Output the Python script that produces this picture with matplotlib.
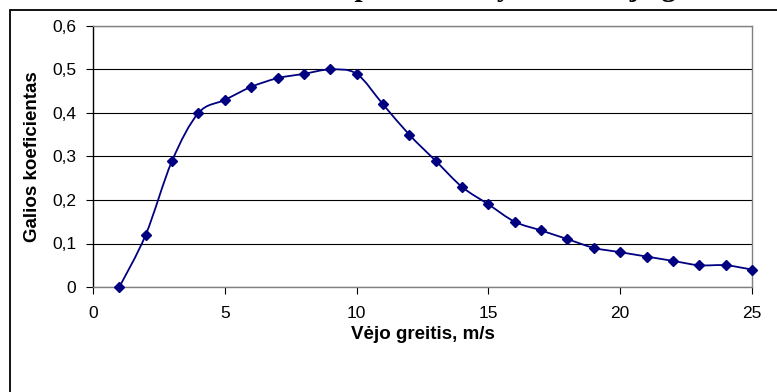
import matplotlib
matplotlib.use("Agg")
import matplotlib.pyplot as plt
from matplotlib.path import Path
from matplotlib.patches import PathPatch, Rectangle

# Datos
wind_speed = [1, 2, 3, 4, 5, 6, 7, 8, 9, 10, 11, 12, 13, 14, 15, 16, 17, 18, 19, 20, 21, 22, 23, 24, 25]
power_coef = [0.0, 0.12, 0.29, 0.40, 0.43, 0.46, 0.48, 0.49, 0.50, 0.49, 0.42, 0.35, 0.29,
              0.23, 0.19, 0.15, 0.13, 0.11, 0.09, 0.08, 0.07, 0.06, 0.05, 0.05, 0.04]
y_ticks = [0, 0.1, 0.2, 0.3, 0.4, 0.5, 0.6]
y_tick_labels = ["0", "0,1", "0,2", "0,3", "0,4", "0,5", "0,6"]
x_ticks = [0, 5, 10, 15, 20, 25]

title = "Galios koeficiento priklausomybė nuo vėjo greičio"
x_label = "Vėjo greitis, m/s"
y_label = "Galios koeficientas"

navy = "#000080"
W, H = 777, 392

plt.rcParams["font.family"] = ["Liberation Sans", "DejaVu Sans"]

fig = plt.figure(figsize=(W / 100, H / 100), dpi=100)
ax = fig.add_axes([93 / W, 1 - 287 / H, (752 - 93) / W, (287 - 26) / H])

# borde exterior del gráfico (cortado a la derecha y abajo)
fig.patches.append(Rectangle((9.5 / W, -0.2), 1.0, 1.2 - 10.5 / H, transform=fig.transFigure,
                             fill=False, edgecolor="black", linewidth=1.3))

# línea suavizada tipo Excel (Bezier por los puntos)
verts = [(wind_speed[0], power_coef[0])]
codes = [Path.MOVETO]
n = len(wind_speed)
for i in range(n - 1):
    p0 = (wind_speed[max(i - 1, 0)], power_coef[max(i - 1, 0)])
    p1 = (wind_speed[i], power_coef[i])
    p2 = (wind_speed[i + 1], power_coef[i + 1])
    p3 = (wind_speed[min(i + 2, n - 1)], power_coef[min(i + 2, n - 1)])
    c1 = (p1[0] + (p2[0] - p0[0]) / 6, p1[1] + (p2[1] - p0[1]) / 6)
    c2 = (p2[0] - (p3[0] - p1[0]) / 6, p2[1] - (p3[1] - p1[1]) / 6)
    verts += [c1, c2, p2]
    codes += [Path.CURVE4] * 3
ax.add_patch(PathPatch(Path(verts, codes), facecolor="none", edgecolor=navy, linewidth=1.3,
                       zorder=3, clip_on=False))
ax.plot(wind_speed, power_coef, linestyle="none", marker="D", markersize=5.5, color=navy,
        zorder=4, clip_on=False)

ax.set_xlim(0, 25)
ax.set_ylim(0, 0.6)
ax.set_xticks(x_ticks)
ax.set_yticks(y_ticks)
ax.set_yticklabels(y_tick_labels)
ax.tick_params(axis="both", direction="out", length=5, width=0.8, labelsize=12.5, colors="black")
ax.tick_params(axis="x", pad=9)
ax.tick_params(axis="y", pad=7)

ax.grid(True, axis="y", color="black", linewidth=0.8)
ax.set_axisbelow(True)
ax.spines["left"].set_color("black")
ax.spines["bottom"].set_color("#808080")
ax.spines["top"].set_color("#808080")
ax.spines["right"].set_color("#808080")
for s in ax.spines.values():
    s.set_linewidth(1.0)

ax.set_xlabel(x_label, fontsize=13.5, fontweight="bold", labelpad=3)
ax.set_ylabel(y_label, fontsize=13.5, fontweight="bold", labelpad=8)

# título (cortado por el borde superior, como en el original)
fig.text(0.56, 1 + 4 / H, title, ha="center", va="baseline", fontsize=21, fontweight="bold",
         family=["Liberation Serif", "DejaVu Serif"])

fig.savefig("out.png", dpi=100)
